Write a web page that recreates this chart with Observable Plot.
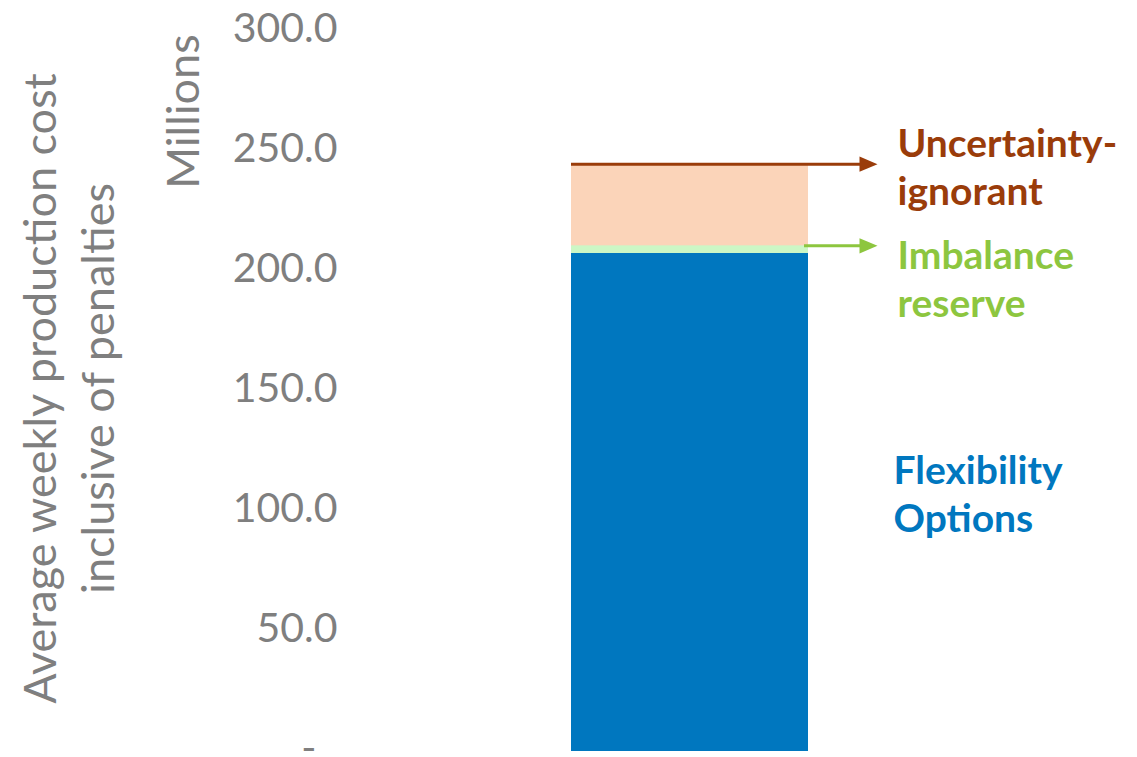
<!DOCTYPE html>
<html>
<head>
<meta charset="utf-8">
<script src="https://cdn.jsdelivr.net/npm/d3@7"></script>
<script src="https://cdn.jsdelivr.net/npm/@observablehq/plot@0.6"></script>
<style>
  html, body { margin: 0; padding: 0; background: #ffffff; }
</style>
</head>
<body>
<div id="chart"></div>
<script>
// ---- data ----
const categories = ["Scenario"];
const seriesNames = ["Uncertainty-ignorant", "Imbalance reserve", "Flexibility Options"];
const seriesLabels = ["Uncertainty-\nignorant", "Imbalance\nreserve", "Flexibility\nOptions"];
const seriesTotals = [244.3, 210.7, 207.5];   // millions, average weekly production cost
const yTicks = [0, 50, 100, 150, 200, 250, 300];
const axisTitle = "Average weekly production cost\ninclusive of penalties";
const unitLabel = "Millions";

// ---- styles ----
const barColors = ["#fbd4b9", "#ccf7c5", "#0077bf"];
const textColors = ["#9a3c0a", "#8dc63f", "#0077bf"];
const gray = "#7f7f7f";

const rows = seriesNames.map((name, i) => ({
  category: categories[0],
  name,
  label: seriesLabels[i],
  total: seriesTotals[i]
}));
const byName = (n) => rows.filter((d) => d.name === n);

const rightHead = {
  draw(context, size) {
    const r = Math.sqrt(size / Math.PI);
    context.moveTo(r, 0);
    context.lineTo(-r, -0.85 * r);
    context.lineTo(-r, 0.85 * r);
    context.closePath();
  }
};

const chart = Plot.plot({
  width: 1137,
  height: 757,
  marginTop: 31,
  marginBottom: 6,
  marginLeft: 340,
  marginRight: 20,
  style: {fontFamily: "Lato, 'Open Sans', sans-serif", background: "#ffffff", overflow: "visible"},
  x: {type: "band", domain: categories, range: [571, 808], padding: 0, axis: null},
  y: {domain: [0, 300], axis: null},
  color: {domain: seriesNames, range: barColors},
  marks: [
    Plot.barY(rows, {x: "category", y1: 0, y2: "total", fill: "name"}),
    // arrow shafts (frame spans 340..1117)
    Plot.ruleY(byName("Uncertainty-ignorant"), {
      y: "total", dy: -1,
      stroke: textColors[0], strokeWidth: 3, insetLeft: 231, insetRight: 255
    }),
    Plot.ruleY(byName("Imbalance reserve"), {
      y: "total",
      stroke: textColors[1], strokeWidth: 3, insetLeft: 464, insetRight: 255
    }),
    // arrow heads
    Plot.dot(byName("Uncertainty-ignorant"), {
      x: "category", y: "total", dy: -1, dx: 178.5, r: 9, symbol: rightHead,
      fill: textColors[0], stroke: "none"
    }),
    Plot.dot(byName("Imbalance reserve"), {
      x: "category", y: "total", dx: 178.5, r: 9, symbol: rightHead,
      fill: textColors[1], stroke: "none"
    }),
    // series labels
    Plot.text(byName("Uncertainty-ignorant"), {
      x: "category", y: "total", text: "label", dx: 207.5, dy: 0,
      textAnchor: "start", lineAnchor: "middle", lineHeight: 1.23,
      fontSize: 39, fontWeight: "bold", fill: textColors[0]
    }),
    Plot.text(byName("Imbalance reserve"), {
      x: "category", y: "total", text: "label", dx: 207.5, dy: 31.6,
      textAnchor: "start", lineAnchor: "middle", lineHeight: 1.23,
      fontSize: 39, fontWeight: "bold", fill: textColors[1]
    }),
    Plot.text(byName("Flexibility Options"), {
      x: "category", y: (d) => d.total / 2, text: "label", dx: 203.5, dy: -10,
      textAnchor: "start", lineAnchor: "middle", lineHeight: 1.25,
      fontSize: 39, fontWeight: "bold", fill: textColors[2]
    }),
    // y axis
    Plot.axisY({
      ticks: yTicks,
      tickFormat: (d) => (d === 0 ? "-\u00a0\u00a0" : d.toFixed(1)),
      tickSize: 0,
      tickPadding: 3,
      fontSize: 41,
      fill: gray,
      dy: -2.5,
      label: null
    }),
    // axis titles
    Plot.text([axisTitle], {
      frameAnchor: "left", text: (d) => d, rotate: -90,
      textAnchor: "middle", lineAnchor: "middle",
      dx: -273.6, dy: -3, fontSize: 45, lineHeight: 1.289, fill: gray
    }),
    Plot.text([unitLabel], {
      frameAnchor: "top-left", text: (d) => d, rotate: -90,
      textAnchor: "middle", lineAnchor: "middle",
      dx: -156.4, dy: 80, fontSize: 45, fill: gray
    })
  ]
});

document.getElementById("chart").appendChild(chart);
</script>
</body>
</html>
